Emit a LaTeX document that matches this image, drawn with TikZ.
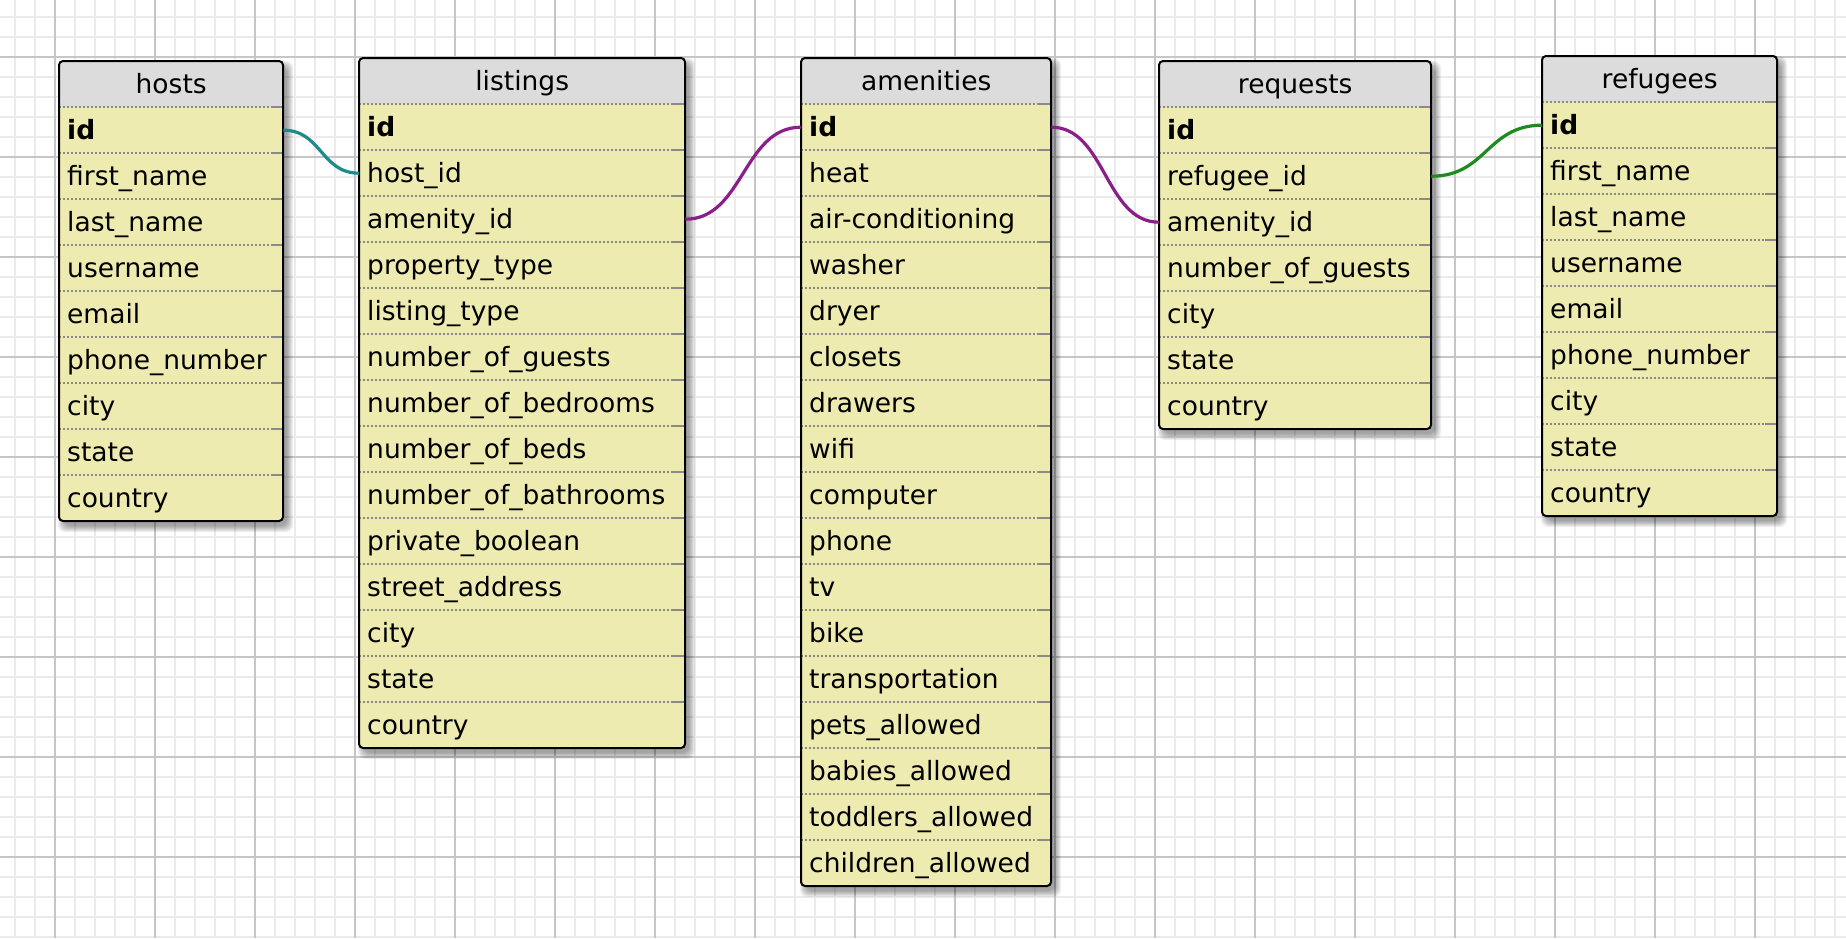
\documentclass[tikz,border=0pt]{standalone}
\usepackage{fontspec}
\setmainfont{DejaVu Sans}
\definecolor{tblbody}{HTML}{EEEBB0}
\definecolor{tblhead}{HTML}{DCDCDC}
\definecolor{gridminor}{HTML}{EBEBEB}
\definecolor{gridmajor}{HTML}{C6C6C6}
\definecolor{sepgray}{HTML}{8A8A8A}
\definecolor{connteal}{HTML}{1F8A8A}
\definecolor{connpurple}{HTML}{8A1F8A}
\definecolor{conngreen}{HTML}{1F8A1F}
\newcommand\erdfont{\fontsize{26.5}{30}\selectfont}
\tikzset{
  rowtext/.style={inner xsep=8pt, inner ysep=0pt, text height=32pt, text depth=14pt, align=left, font=\erdfont},
  hdrtext/.style={inner sep=0pt, text height=33pt, text depth=13pt, align=center, font=\erdfont},
  sepdot/.style={sepgray, line width=1.5pt, dash pattern=on 2pt off 2pt},
  sepend/.style={sepgray, line width=1.5pt},
  tblborder/.style={black, line width=2pt, rounded corners=4pt},
  gridmin/.style={gridminor, line width=1.5pt},
  gridmaj/.style={gridmajor, line width=2pt},
  conn/.style={line width=3.2pt},
}
% #1 name, #2 left x, #3 header bottom y, #4 width, #5 rows, #6 title, #7 row labels
\newcommand\erdtable[7]{%
  \pgfmathsetmacro\erdB{#3+46*#5}%
  \pgfmathsetmacro\erdR{#2+#4}%
  \pgfmathsetmacro\erdTW{#4-16}%
  \pgfmathtruncatemacro\erdN{#5-1}%
  \foreach \s in {1,...,7}
    \fill[black, opacity=0.06, rounded corners=7pt] (#2+6-\s, #3-46+7-\s) rectangle (\erdR+3+\s, \erdB+4+\s);
  \fill[tblbody, rounded corners=4pt] (#2,#3-46) rectangle (\erdR,\erdB);
  \begin{scope}
    \clip[rounded corners=4pt] (#2,#3-46) rectangle (\erdR,\erdB);
    \fill[tblhead] (#2,#3-46) rectangle (\erdR,#3);
  \end{scope}
  \foreach \k in {0,...,\erdN} {
    \draw[sepdot] (#2,#3+46*\k) -- (\erdR-12,#3+46*\k);
    \draw[sepend] (\erdR-12,#3+46*\k) -- (\erdR,#3+46*\k);
  }
  \node[hdrtext, minimum width=#4pt, anchor=south west] (#1-h) at (#2,#3) {#6};
  \foreach \lbl [count=\i] in {#7}
    \node[rowtext, text width=\erdTW pt, anchor=north west] (#1-\i) at (#2,#3+46*\i-46) {\lbl};
  \draw[tblborder] (#2,#3-46) rectangle (\erdR,\erdB);
}
\begin{document}
\begin{tikzpicture}[x=1pt,y=-1pt]
  \useasboundingbox (0,0) rectangle (1846,938);
  \fill[white] (0,0) rectangle (1846,938);
  \foreach \x in {15,35,...,1835} \draw[gridmin] (\x,0) -- (\x,938);
  \foreach \y in {17,37,...,937} \draw[gridmin] (0,\y) -- (1846,\y);
  \foreach \x in {55,155,...,1755} \draw[gridmaj] (\x,0) -- (\x,938);
  \foreach \y in {57,157,...,857} \draw[gridmaj] (0,\y) -- (1846,\y);

  \erdtable{hosts}{59}{107}{224}{9}{hosts}{\textbf{id},first\_name,last\_name,username,email,phone\_number,city,state,country}
  \erdtable{listings}{359}{104}{326}{14}{listings}{\textbf{id},host\_id,amenity\_id,property\_type,listing\_type,number\_of\_guests,number\_of\_bedrooms,number\_of\_beds,number\_of\_bathrooms,private\_boolean,street\_address,city,state,country}
  \erdtable{amenities}{801}{104}{250}{17}{amenities}{\textbf{id},heat,air-conditioning,washer,dryer,closets,drawers,wifi,computer,phone,tv,bike,transportation,pets\_allowed,babies\_allowed,toddlers\_allowed,children\_allowed}
  \erdtable{requests}{1159}{107}{272}{7}{requests}{\textbf{id},refugee\_id,amenity\_id,number\_of\_guests,city,state,country}
  \erdtable{refugees}{1542}{102}{235}{9}{refugees}{\textbf{id},first\_name,last\_name,username,email,phone\_number,city,state,country}

  \draw[conn, connteal] (hosts-1.east) .. controls +(38,0) and +(-38,0) .. (listings-2.west);
  \draw[conn, connpurple] (listings-3.east) .. controls +(58,0) and +(-58,0) .. (amenities-1.west);
  \draw[conn, connpurple] (amenities-1.east) .. controls +(54,0) and +(-54,0) .. (requests-3.west);
  \draw[conn, conngreen] (requests-2.east) .. controls +(55,0) and +(-55,0) .. (refugees-1.west);
\end{tikzpicture}
\end{document}
